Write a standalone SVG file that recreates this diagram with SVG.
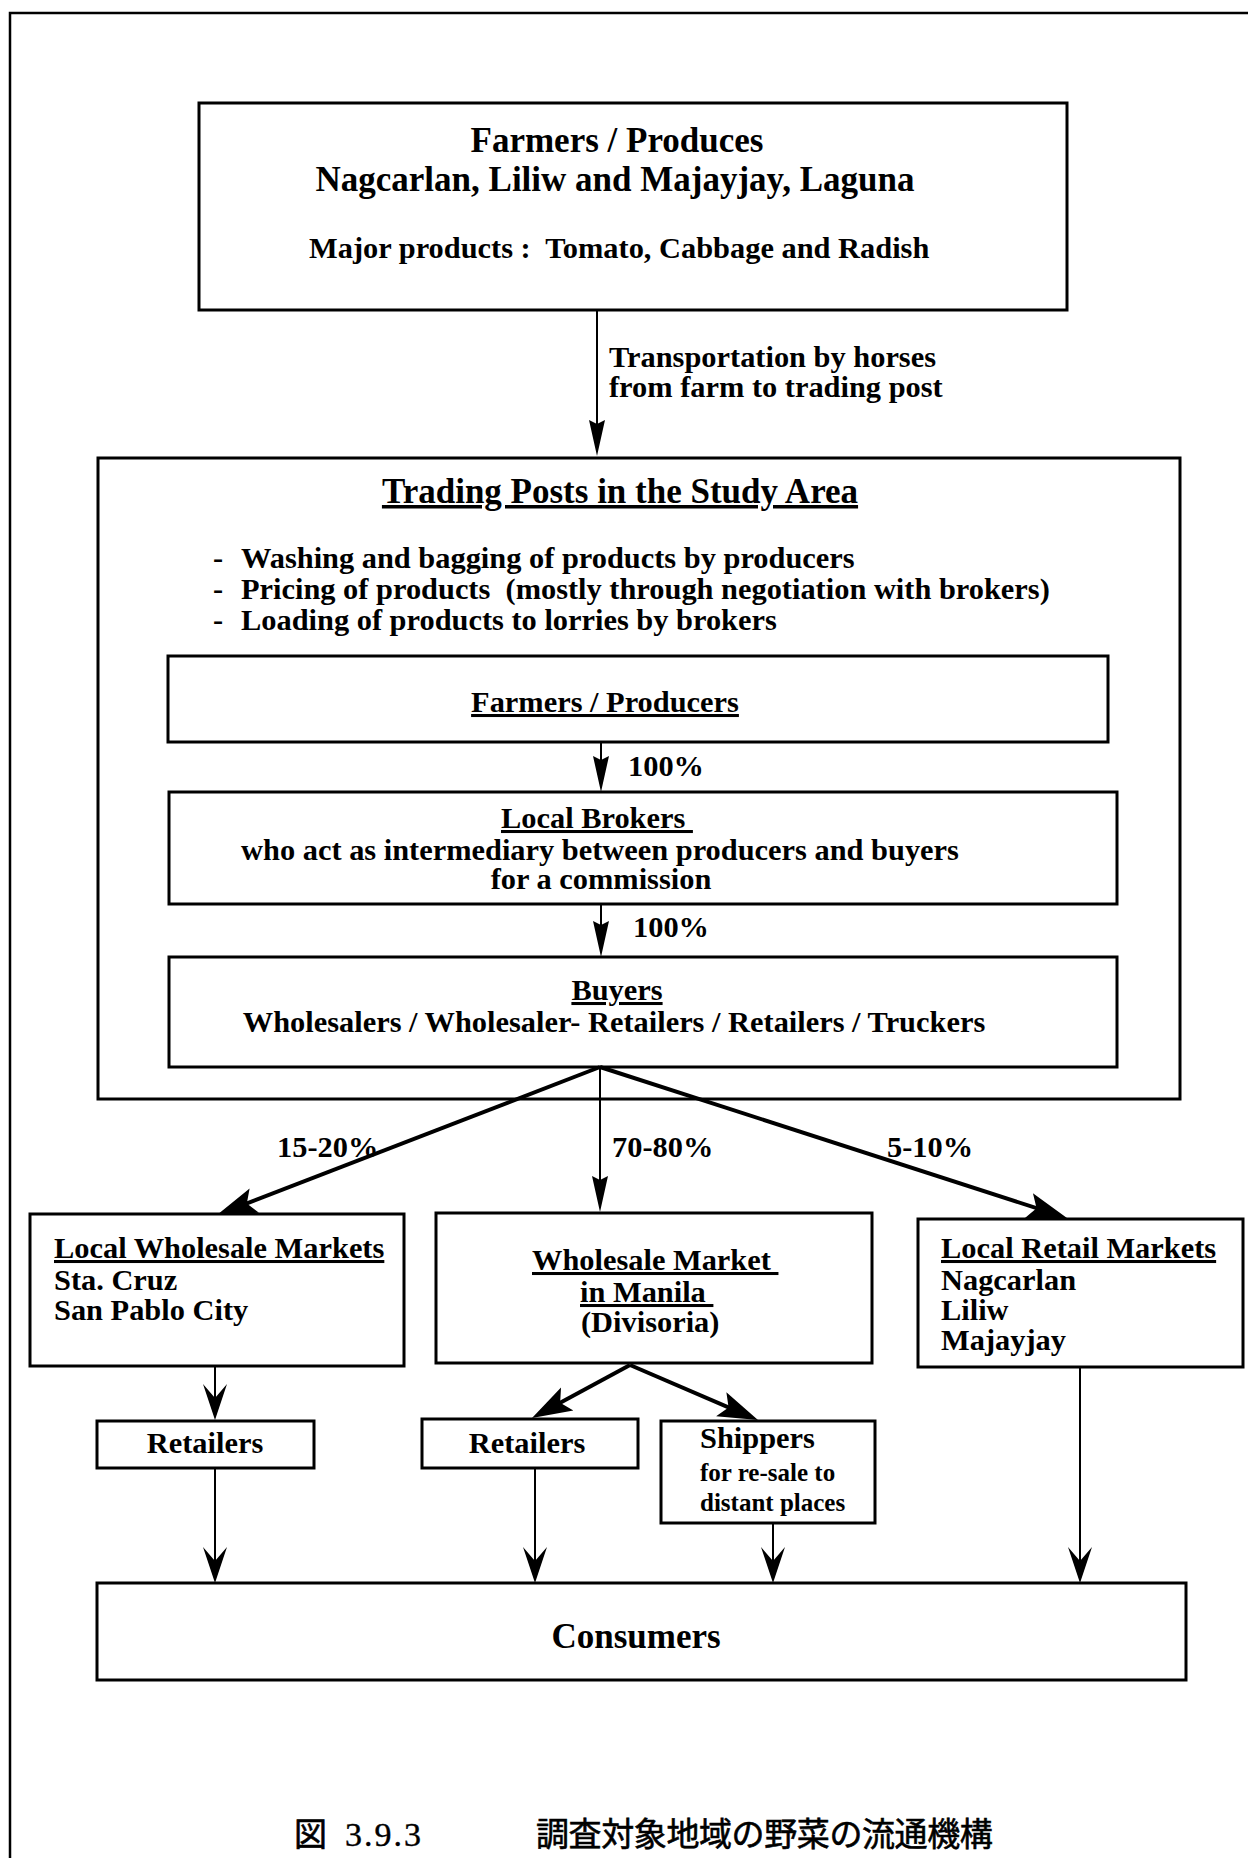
<svg xmlns="http://www.w3.org/2000/svg" width="1248" height="1858" viewBox="0 0 1248 1858">
<style>
  .box { fill: none; stroke: #000; stroke-width: 3; }
  .frame { fill: none; stroke: #000; stroke-width: 2.5; }
  .t { font-family: "Liberation Serif", "Times New Roman", serif; font-weight: bold; font-size: 30.4px; fill: #000; }
  .big { font-size: 35px; }
  .sm { font-size: 25px; }
  .u { text-decoration: underline; }
  .mid { text-anchor: middle; }
  .thin { stroke: #000; stroke-width: 2; fill: none; }
  .thick { stroke: #000; stroke-width: 4; fill: none; }
  .cap { font-family: "Noto Sans CJK JP", "Noto Sans CJK SC", sans-serif; font-size: 33px; fill: #000; stroke: #000; stroke-width: 0.6; }
  .capn { font-family: "Liberation Serif", serif; font-size: 34px; fill: #000; stroke: #000; stroke-width: 0.4; }
</style>
<defs>
  <marker id="aNarrow" markerUnits="userSpaceOnUse" viewBox="0 -10 40 20" markerWidth="40" markerHeight="20" refX="26" refY="0" orient="auto">
    <path d="M0,-8 L36,0 L0,8 L4,0 Z" fill="#000"/>
  </marker>
  <marker id="aBarb" markerUnits="userSpaceOnUse" viewBox="0 -14 40 28" markerWidth="40" markerHeight="28" refX="26" refY="0" orient="auto">
    <path d="M0,-12 L36,0 L0,12 L14,0 Z" fill="#000"/>
  </marker>
  <marker id="aThick" markerUnits="userSpaceOnUse" viewBox="0 -15 44 30" markerWidth="44" markerHeight="30" refX="30" refY="0" orient="auto">
    <path d="M0,-13 L40,0 L0,13 L8,0 Z" fill="#000"/>
  </marker>
</defs>

<rect class="frame" x="10" y="13" width="1260" height="1870"/>

<g id="connectors">
  <line class="thin" x1="597" y1="310" x2="597" y2="446" marker-end="url(#aNarrow)"/>
  <line class="thin" x1="601" y1="742" x2="601" y2="782" marker-end="url(#aNarrow)"/>
  <line class="thin" x1="601" y1="904" x2="601" y2="947" marker-end="url(#aNarrow)"/>
  <line class="thick" x1="600" y1="1067" x2="226.3" y2="1211.4" marker-end="url(#aThick)"/>
  <line class="thin" x1="600" y1="1067" x2="600" y2="1202" marker-end="url(#aNarrow)"/>
  <line class="thick" x1="600" y1="1067" x2="1057.5" y2="1214.9" marker-end="url(#aThick)"/>
  <line class="thin" x1="215" y1="1366" x2="215" y2="1410" marker-end="url(#aBarb)"/>
  <line class="thin" x1="215" y1="1468" x2="215" y2="1573" marker-end="url(#aBarb)"/>
  <line class="thick" x1="630" y1="1365" x2="540.8" y2="1413.2" marker-end="url(#aThick)"/>
  <line class="thick" x1="630" y1="1365" x2="748.8" y2="1416.1" marker-end="url(#aThick)"/>
  <line class="thin" x1="535" y1="1468" x2="535" y2="1573" marker-end="url(#aBarb)"/>
  <line class="thin" x1="773" y1="1523" x2="773" y2="1573" marker-end="url(#aBarb)"/>
  <line class="thin" x1="1080" y1="1367" x2="1080" y2="1573" marker-end="url(#aBarb)"/>
  <text class="t" x="609" y="367">Transportation by horses</text>
  <text class="t" x="609" y="397">from farm to trading post</text>
  <text class="t" x="628" y="776">100%</text>
  <text class="t" x="633" y="937">100%</text>
  <text class="t" x="277" y="1157">15-20%</text>
  <text class="t" x="612" y="1157">70-80%</text>
  <text class="t" x="887" y="1157">5-10%</text>
</g>

<g id="farmers-produces">
  <rect class="box" x="199" y="103" width="868" height="207"/>
  <text class="t big mid" x="617" y="152">Farmers / Produces</text>
  <text class="t big mid" x="615" y="191">Nagcarlan, Liliw and Majayjay, Laguna</text>
  <text class="t" x="309" y="258" xml:space="preserve">Major products :  Tomato, Cabbage and Radish</text>
</g>

<g id="trading-posts">
  <rect class="box" x="98" y="458" width="1082" height="641"/>
  <text class="t big mid u" x="620" y="503">Trading Posts in the Study Area</text>
  <text class="t" x="213" y="568">-</text>
  <text class="t" x="241" y="568">Washing and bagging of products by producers</text>
  <text class="t" x="213" y="599">-</text>
  <text class="t" x="241" y="599" xml:space="preserve">Pricing of products  (mostly through negotiation with brokers)</text>
  <text class="t" x="213" y="630">-</text>
  <text class="t" x="241" y="630">Loading of products to lorries by brokers</text>
</g>

<g id="farmers-producers">
  <rect class="box" x="168" y="656" width="940" height="86"/>
  <text class="t mid u" x="605" y="712">Farmers / Producers</text>
</g>

<g id="local-brokers">
  <rect class="box" x="169" y="792" width="948" height="112"/>
  <text class="t u" x="501" y="828" xml:space="preserve">Local Brokers </text>
  <text class="t mid" x="600" y="860">who act as intermediary between producers and buyers</text>
  <text class="t mid" x="601" y="889">for a commission</text>
</g>

<g id="buyers">
  <rect class="box" x="169" y="957" width="948" height="110"/>
  <text class="t mid u" x="617" y="1000">Buyers</text>
  <text class="t mid" x="614" y="1032">Wholesalers / Wholesaler- Retailers / Retailers / Truckers</text>
</g>

<g id="local-wholesale-markets">
  <rect class="box" x="30" y="1214" width="374" height="152"/>
  <text class="t u" x="54" y="1258">Local Wholesale Markets</text>
  <text class="t" x="54" y="1290">Sta. Cruz</text>
  <text class="t" x="54" y="1320">San Pablo City</text>
</g>

<g id="wholesale-market-manila">
  <rect class="box" x="436" y="1213" width="436" height="150"/>
  <text class="t u" x="532" y="1270" xml:space="preserve">Wholesale Market </text>
  <text class="t u" x="580" y="1302" xml:space="preserve">in Manila </text>
  <text class="t" x="581" y="1332">(Divisoria)</text>
</g>

<g id="local-retail-markets">
  <rect class="box" x="918" y="1219" width="325" height="148"/>
  <text class="t u" x="941" y="1258">Local Retail Markets</text>
  <text class="t" x="941" y="1290">Nagcarlan</text>
  <text class="t" x="941" y="1320">Liliw</text>
  <text class="t" x="941" y="1350">Majayjay</text>
</g>

<g id="retailers-left">
  <rect class="box" x="97" y="1421" width="217" height="47"/>
  <text class="t mid" x="205" y="1453">Retailers</text>
</g>

<g id="retailers-middle">
  <rect class="box" x="422" y="1419" width="216" height="49"/>
  <text class="t mid" x="527" y="1453">Retailers</text>
</g>

<g id="shippers">
  <rect class="box" x="661" y="1421" width="214" height="102"/>
  <text class="t" x="700" y="1448">Shippers</text>
  <text class="t sm" x="700" y="1481">for re-sale to</text>
  <text class="t sm" x="700" y="1511">distant places</text>
</g>

<g id="consumers">
  <rect class="box" x="97" y="1583" width="1089" height="97"/>
  <text class="t big mid" x="636" y="1648">Consumers</text>
</g>

<g id="caption">
  <text class="cap" x="294" y="1846">図</text>
  <text class="capn" x="345" y="1846" letter-spacing="2">3.9.3</text>
  <text class="cap" x="536" y="1846" letter-spacing="-0.4">調査対象地域の野菜の流通機構</text>
</g>
</svg>
